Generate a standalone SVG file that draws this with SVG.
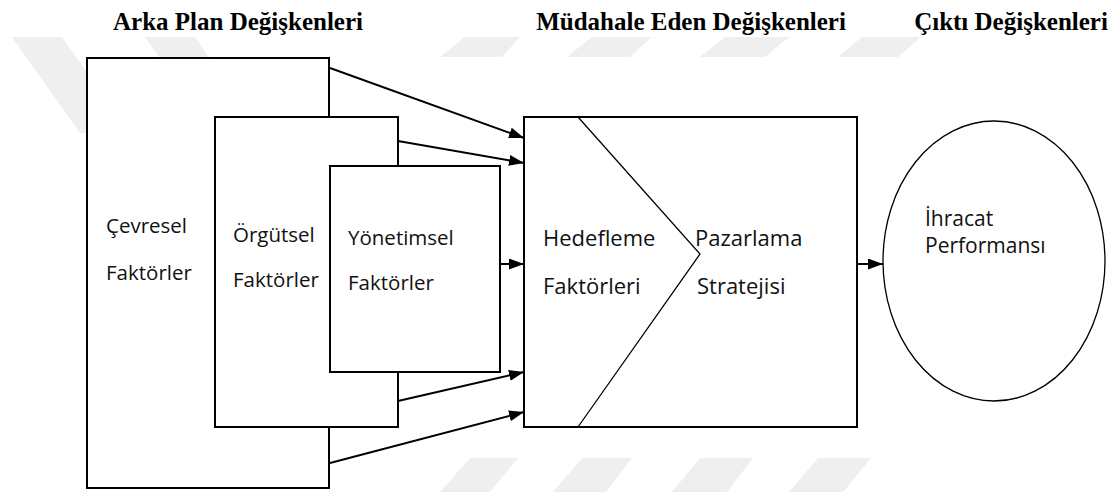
<svg xmlns="http://www.w3.org/2000/svg" width="1120" height="495" viewBox="0 0 1120 495">
  <style>
    .wm { fill: #efefef; }
    .box { fill: #ffffff; stroke: #000000; stroke-width: 2; }
    .thin { fill: none; stroke: #000000; stroke-width: 1.3; }
    .edge { fill: none; stroke: #000000; stroke-width: 2; marker-end: url(#head); }
    .title { font-family: "Liberation Serif", "Times New Roman", serif; font-weight: bold; font-size: 25px; fill: #000000; text-anchor: middle; }
    .lbl { font-family: "Open Sans", "Noto Sans", sans-serif; font-size: 20.5px; fill: #111111; }
    .lbl-lg { font-size: 22px; }
    .lbl-md { font-size: 21px; }
  </style>
  <defs>
    <marker id="head" viewBox="0 0 15 11" markerWidth="15" markerHeight="11" markerUnits="userSpaceOnUse" refX="15" refY="5.5" orient="auto">
      <path d="M0,0 L15,5.5 L0,11 z" fill="#000000"/>
    </marker>
  </defs>

  <rect width="1120" height="495" fill="#ffffff"/>

  <!-- background watermark bands -->
  <g id="watermark">
    <polygon class="wm" points="12,37 62,37 130,133 80,133"/>
    <polygon class="wm" points="145,37 195,37 260,130 210,130"/>
    <polygon class="wm" points="440,57 465,37 520,37 502,57"/>
    <polygon class="wm" points="567,57 592,37 652,37 630,57"/>
    <polygon class="wm" points="700,57 725,37 789,37 765,57"/>
    <polygon class="wm" points="838,57 862,37 921,37 898,57"/>
    <polygon class="wm" points="440,492 470,458 518,458 490,492"/>
    <polygon class="wm" points="553,492 582,458 632,458 606,492"/>
    <polygon class="wm" points="672,492 700,458 753,458 727,492"/>
    <polygon class="wm" points="789,492 818,458 871,458 843,492"/>
  </g>

  <!-- column headings -->
  <g id="headings">
    <text class="title" x="238" y="30">Arka Plan Değişkenleri</text>
    <text class="title" x="691" y="30">Müdahale Eden Değişkenleri</text>
    <text class="title" x="1011" y="30">Çıktı Değişkenleri</text>
  </g>

  <g id="cevresel">
    <rect class="box" x="87" y="58" width="242" height="430"/>
    <text class="lbl" x="106" y="233">Çevresel</text>
    <text class="lbl" x="106" y="280">Faktörler</text>
  </g>

  <g id="orgutsel">
    <rect class="box" x="215" y="117" width="183" height="310"/>
    <text class="lbl" x="233" y="242">Örgütsel</text>
    <text class="lbl" x="233" y="287">Faktörler</text>
  </g>

  <g id="yonetimsel">
    <rect class="box" x="330" y="166" width="170" height="206"/>
    <text class="lbl" x="348" y="245">Yönetimsel</text>
    <text class="lbl" x="348" y="290">Faktörler</text>
  </g>

  <g id="strateji">
    <rect class="box" x="524" y="117" width="333" height="310"/>
    <polyline class="thin" points="578,117 700,254 578,427"/>
    <text class="lbl lbl-lg" x="543" y="246">Hedefleme</text>
    <text class="lbl lbl-lg" x="543" y="294">Faktörleri</text>
    <text class="lbl lbl-lg" x="695" y="246">Pazarlama</text>
    <text class="lbl lbl-lg" x="697" y="294">Stratejisi</text>
  </g>

  <g id="performans">
    <ellipse class="thin" cx="994" cy="261" rx="111" ry="140" fill="#ffffff"/>
    <text class="lbl lbl-md" x="925" y="226">İhracat</text>
    <text class="lbl lbl-md" x="925" y="253">Performansı</text>
  </g>

  <g id="connectors">
    <line class="edge" x1="330" y1="68" x2="524" y2="138"/>
    <line class="edge" x1="398" y1="141" x2="524" y2="163"/>
    <line class="edge" x1="500" y1="264" x2="524" y2="264"/>
    <line class="edge" x1="398" y1="401" x2="524" y2="372"/>
    <line class="edge" x1="330" y1="463" x2="524" y2="412"/>
    <line class="edge" x1="857" y1="264" x2="883" y2="264"/>
  </g>
</svg>
